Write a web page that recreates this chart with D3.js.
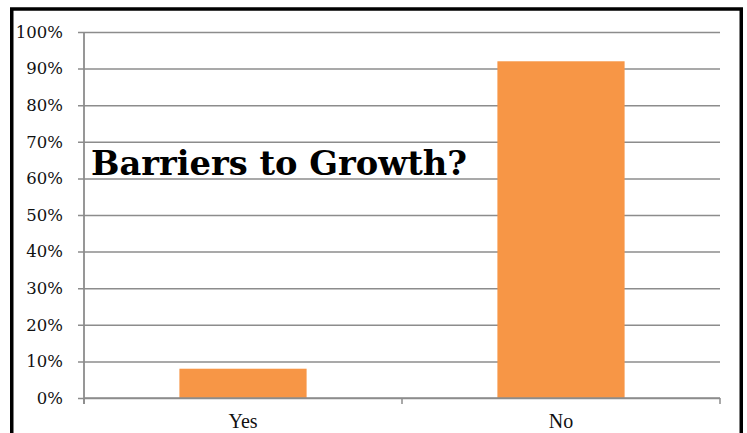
<!DOCTYPE html>
<html>
<head>
<meta charset="utf-8">
<script src="https://cdn.jsdelivr.net/npm/d3@7"></script>
<style>
  html, body { margin: 0; padding: 0; background: #fff; }
  svg { display: block; }
</style>
</head>
<body>
<svg id="chart" width="747" height="433"></svg>
<script>
// Survey answers and their shares
const categories = ["Yes", "No"];
const shares = [0.08, 0.92];
const yTicks = [0, 0.1, 0.2, 0.3, 0.4, 0.5, 0.6, 0.7, 0.8, 0.9, 1.0];
const chartTitle = "Barriers to Growth?";

const svg = d3.select("#chart");
const plot = { left: 84, right: 720, top: 32, bottom: 398 };

// Outer frame
svg.append("rect")
  .attr("x", 11.75).attr("y", 9)
  .attr("width", 729.5).attr("height", 440)
  .attr("fill", "#fff")
  .attr("stroke", "#000").attr("stroke-width", 3.5);

const x = d3.scaleBand()
  .domain(categories)
  .range([plot.left, plot.right])
  .paddingInner(0.6)
  .paddingOuter(0.3);

const y = d3.scaleLinear()
  .domain([0, 1])
  .range([plot.bottom, plot.top]);

const gridColor = "#8c8c8c";

// Horizontal gridlines with left tick stubs
const yAxis = d3.axisLeft(y)
  .tickValues(yTicks)
  .tickFormat(d3.format(".0%"))
  .tickSize(-(plot.right - plot.left))
  .tickPadding(21);

const gy = svg.append("g")
  .attr("transform", `translate(${plot.left},0)`)
  .call(yAxis);
gy.select(".domain").remove();
gy.selectAll(".tick line")
  .attr("stroke", gridColor).attr("stroke-width", 1.5)
  .attr("x1", -6);
gy.selectAll(".tick text")
  .attr("font-family", "'DejaVu Serif', serif")
  .attr("font-size", 16.5)
  .attr("fill", "#111");

// Vertical axis line
svg.append("line")
  .attr("x1", plot.left).attr("x2", plot.left)
  .attr("y1", plot.top).attr("y2", plot.bottom + 6)
  .attr("stroke", gridColor).attr("stroke-width", 1.8);

// Bars
svg.append("g").selectAll("rect")
  .data(categories)
  .join("rect")
  .attr("x", d => x(d))
  .attr("width", x.bandwidth())
  .attr("y", (d, i) => y(shares[i]))
  .attr("height", (d, i) => y(0) - y(shares[i]))
  .attr("fill", "#f79646");

// Category axis: baseline, boundary ticks and labels
const step = x.step();
const bounds = [plot.left, plot.left + step, plot.left + 2 * step];
svg.append("line")
  .attr("x1", plot.left).attr("x2", plot.right)
  .attr("y1", plot.bottom).attr("y2", plot.bottom)
  .attr("stroke", gridColor).attr("stroke-width", 1.5);
svg.append("g").selectAll("line")
  .data(bounds)
  .join("line")
  .attr("x1", d => d).attr("x2", d => d)
  .attr("y1", plot.bottom).attr("y2", plot.bottom + 6)
  .attr("stroke", gridColor).attr("stroke-width", 1.5);
svg.append("g").selectAll("text")
  .data(categories)
  .join("text")
  .attr("x", d => x(d) + x.bandwidth() / 2)
  .attr("y", 428)
  .attr("text-anchor", "middle")
  .attr("font-family", "'Liberation Serif', 'Times New Roman', serif")
  .attr("font-size", 20)
  .attr("fill", "#111")
  .text(d => d);

// Title inside the plot area
svg.append("text")
  .attr("x", 91)
  .attr("y", 175)
  .attr("font-family", "'DejaVu Serif', Georgia, serif")
  .attr("font-weight", "bold")
  .attr("font-size", 34)
  .attr("textLength", 376)
  .attr("lengthAdjust", "spacingAndGlyphs")
  .attr("fill", "#000")
  .text(chartTitle);
</script>
</body>
</html>
